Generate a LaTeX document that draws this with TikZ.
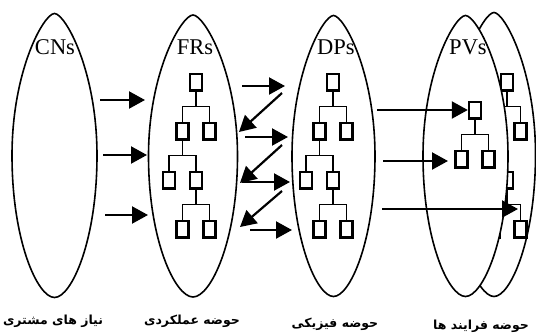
\documentclass[tikz,border=0pt]{standalone}
\usepackage{fontspec}
\setmainfont{Liberation Serif}
\newfontfamily\arabicfont[Script=Arabic]{DejaVu Sans}
\TeXXeTstate=1
\usetikzlibrary{shapes,arrows.meta}
\tikzstyle{space}=[draw=black,line width=1.6pt]
\tikzstyle{box}=[rectangle,draw=black,line width=2.4pt,inner sep=0pt,
  minimum width=12pt,minimum height=16.6pt]
\tikzstyle{treeline}=[draw=black,line width=1.6pt]
\tikzstyle{arr}=[line width=2.2pt,-{Triangle[length=16pt,width=17pt]}]
\tikzstyle{headline}=[inner sep=0pt,font=\fontsize{22.5}{26}\selectfont]
\tikzstyle{caption}=[inner sep=0pt,font=\arabicfont\bfseries\fontsize{12.5}{15}\selectfont]
% egg-like domain outline, pointed top: #2 name, (#3,#4) centre, #5 half width, #6 half height
\newcommand{\eggshape}[6][]{%
  \coordinate (#2) at (#3,#4);
  \begin{scope}[shift={(#3,#4)}]
    \draw[space,#1] (0,-#6) .. controls ({0.25*#5},-#6) and (#5,{-0.6*#6}) .. (#5,0)
      .. controls (#5,{0.6*#6}) and ({0.4*#5},#6) .. (0,#6)
      .. controls ({-0.4*#5},#6) and (-#5,{0.6*#6}) .. (-#5,0)
      .. controls (-#5,{-0.6*#6}) and ({-0.25*#5},-#6) .. cycle;
  \end{scope}
}
% two-level tree: #1 prefix, (#2,#3) centre of the top box
\newcommand{\smalltree}[3]{%
  \node[box] (#1a) at (#2,#3) {};
  \node[box] (#1b) at ({#2-13.5},{#3+49}) {};
  \node[box] (#1c) at ({#2+13.5},{#3+49}) {};
  \draw[treeline] (#1a.south) -- ++(0,15);
  \draw[treeline] (#1b.north) -- ++(0,-15) -| (#1c.north);
}
% four-level tree
\newcommand{\bigtree}[3]{%
  \smalltree{#1}{#2}{#3}
  \node[box] (#1d) at ({#2-27},{#3+98}) {};
  \node[box] (#1e) at (#2,{#3+98}) {};
  \node[box] (#1f) at ({#2-13.5},{#3+147}) {};
  \node[box] (#1g) at ({#2+13.5},{#3+147}) {};
  \draw[treeline] (#1b.south) -- ++(0,15);
  \draw[treeline] (#1d.north) -- ++(0,-15) -| (#1e.north);
  \draw[treeline] (#1e.south) -- ++(0,15);
  \draw[treeline] (#1f.north) -- ++(0,-15) -| (#1g.north);
}
\begin{document}
\begin{tikzpicture}[x=1pt,y=-1pt]
    \useasboundingbox (0,0) rectangle (536,333);
    \eggshape{cn}{54.5}{155.5}{42.5}{142}
    \eggshape{fr}{193}{156}{44.5}{141}
    \eggshape{dp}{333.5}{156}{41.5}{140.5}
    \eggshape{pvback}{494}{154.5}{41.5}{142}
    \bigtree{fr}{196}{82}
    \bigtree{dp}{333}{82}
    \bigtree{pvb}{507}{82}
    \eggshape[fill=white]{pv}{465.5}{156}{42.5}{140.5}
    \smalltree{pvf}{475}{110}
    % titles
    \node [style=headline] (cnt) at (55,47) {CNs};
    \node [style=headline] (frt) at (195,47) {FRs};
    \node [style=headline] (dpt) at (336,47) {DPs};
    \node [style=headline] (pvt) at (468,47) {PVs};
    % CNs -> FRs
    \coordinate (p1) at (100,100); \coordinate (q1) at (145,100);
    \coordinate (p2) at (103,155); \coordinate (q2) at (147,155);
    \coordinate (p3) at (105,215); \coordinate (q3) at (148,215);
    \draw [style=arr] (p1) to (q1);
    \draw [style=arr] (p2) to (q2);
    \draw [style=arr] (p3) to (q3);
    % FRs <-> DPs
    \coordinate (rs1) at (242,86);  \coordinate (re1) at (285,86);
    \coordinate (bs1) at (282,93);  \coordinate (be1) at (239,132);
    \coordinate (rs2) at (245,137); \coordinate (re2) at (288,137);
    \coordinate (bs2) at (282,145); \coordinate (be2) at (240,183);
    \coordinate (rs3) at (242,182); \coordinate (re3) at (290,182);
    \coordinate (bs3) at (282,191); \coordinate (be3) at (240,227);
    \coordinate (rs4) at (250,230); \coordinate (re4) at (292,230);
    \draw [style=arr] (rs1) to (re1);
    \draw [style=arr] (bs1) to (be1);
    \draw [style=arr] (rs2) to (re2);
    \draw [style=arr] (bs2) to (be2);
    \draw [style=arr] (rs3) to (re3);
    \draw [style=arr] (bs3) to (be3);
    \draw [style=arr] (rs4) to (re4);
    % DPs -> PVs
    \coordinate (ds1) at (377,110);
    \coordinate (ds2) at (383,161); \coordinate (de2) at (448,161);
    \coordinate (ds3) at (382,209); \coordinate (de3) at (518,209);
    \draw [style=arr] (ds1) to (pvfa.west);
    \draw [style=arr] (ds2) to (de2);
    \draw [style=arr] (ds3) to (de3);
    % domain names
    \node [style=caption] (cnc) at (53,321) {\beginR نیاز های مشتری\endR};
    \node [style=caption] (frc) at (192,321) {\beginR حوضه عملکردی\endR};
    \node [style=caption] (dpc) at (335,324) {\beginR حوضه فیزیکی\endR};
    \node [style=caption] (pvc) at (481,326) {\beginR حوضه فرایند ها\endR};
\end{tikzpicture}
\end{document}
